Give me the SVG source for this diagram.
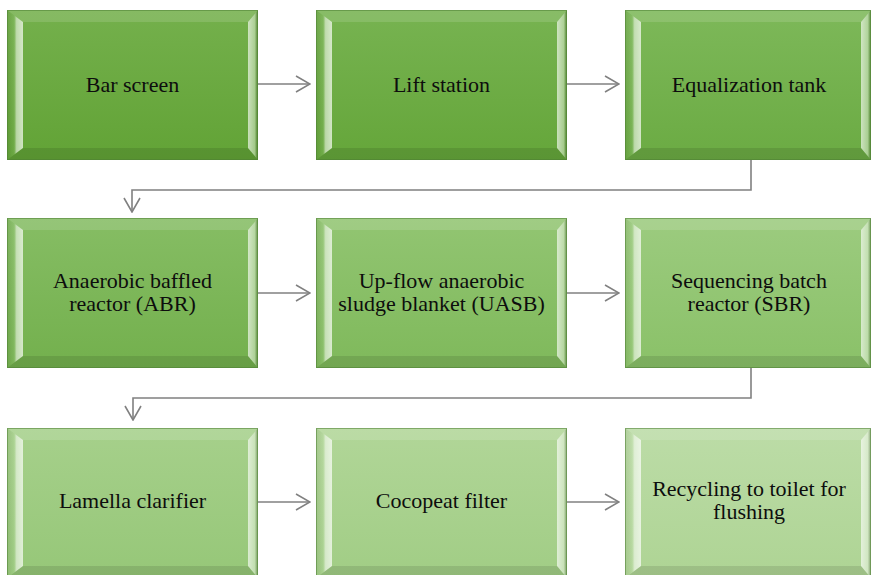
<svg xmlns="http://www.w3.org/2000/svg" xmlns:xlink="http://www.w3.org/1999/xlink" width="871" height="575" viewBox="0 0 871 575">
  <style>
    .lbl { font-family: "Liberation Serif", "Times New Roman", serif; font-size: 22px; fill: #0d0d0d; text-anchor: middle; }
    .edge { fill: none; stroke: #808080; stroke-width: 1.6; }
    .rim { fill: none; stroke: #4f7f34; stroke-opacity: 0.55; stroke-width: 1; }
  </style>
  <defs>
    <!-- face fills, darkest first, lightening along the process -->
    <linearGradient id="f1" x1="0" y1="0" x2="0" y2="1"><stop offset="0" stop-color="#74b04c"/><stop offset="1" stop-color="#62a336"/></linearGradient>
    <linearGradient id="f2" x1="0" y1="0" x2="0" y2="1"><stop offset="0" stop-color="#77b351"/><stop offset="1" stop-color="#65a63a"/></linearGradient>
    <linearGradient id="f3" x1="0" y1="0" x2="0" y2="1"><stop offset="0" stop-color="#7db859"/><stop offset="1" stop-color="#6bab43"/></linearGradient>
    <linearGradient id="f4" x1="0" y1="0" x2="0" y2="1"><stop offset="0" stop-color="#86bd64"/><stop offset="1" stop-color="#73b04d"/></linearGradient>
    <linearGradient id="f5" x1="0" y1="0" x2="0" y2="1"><stop offset="0" stop-color="#92c572"/><stop offset="1" stop-color="#7fb95b"/></linearGradient>
    <linearGradient id="f6" x1="0" y1="0" x2="0" y2="1"><stop offset="0" stop-color="#9ccb7f"/><stop offset="1" stop-color="#8ac168"/></linearGradient>
    <linearGradient id="f7" x1="0" y1="0" x2="0" y2="1"><stop offset="0" stop-color="#a6d08b"/><stop offset="1" stop-color="#96c778"/></linearGradient>
    <linearGradient id="f8" x1="0" y1="0" x2="0" y2="1"><stop offset="0" stop-color="#b1d698"/><stop offset="1" stop-color="#a1cd85"/></linearGradient>
    <linearGradient id="f9" x1="0" y1="0" x2="0" y2="1"><stop offset="0" stop-color="#bcdca7"/><stop offset="1" stop-color="#aed494"/></linearGradient>

    <!-- bevel shading -->
    <linearGradient id="bl" x1="0" y1="0" x2="1" y2="0">
      <stop offset="0" stop-color="#000" stop-opacity="0.06"/>
      <stop offset="0.45" stop-color="#fff" stop-opacity="0.08"/>
      <stop offset="0.6" stop-color="#fff" stop-opacity="0.55"/>
      <stop offset="1" stop-color="#fff" stop-opacity="0.7"/>
    </linearGradient>
    <linearGradient id="br" x1="0" y1="0" x2="1" y2="0">
      <stop offset="0" stop-color="#fff" stop-opacity="0.65"/>
      <stop offset="0.7" stop-color="#fff" stop-opacity="0.4"/>
      <stop offset="1" stop-color="#000" stop-opacity="0.12"/>
    </linearGradient>

    <g id="bevelA">
      <polygon points="0,0 251,0 241,12 16,12" fill="#fff" fill-opacity="0.13"/>
      <polygon points="0,0 16,12 16,138 0,150" fill="url(#bl)"/>
      <polygon points="251,0 251,150 241,138 241,12" fill="url(#br)"/>
      <polygon points="0,150 16,138 241,138 251,150" fill="#000" fill-opacity="0.1"/>
      <rect class="rim" x="0.5" y="0.5" width="250" height="149"/>
    </g>
    <g id="bevelB">
      <polygon points="0,0 246,0 236,12 16,12" fill="#fff" fill-opacity="0.13"/>
      <polygon points="0,0 16,12 16,138 0,150" fill="url(#bl)"/>
      <polygon points="246,0 246,150 236,138 236,12" fill="url(#br)"/>
      <polygon points="0,150 16,138 236,138 246,150" fill="#000" fill-opacity="0.1"/>
      <rect class="rim" x="0.5" y="0.5" width="245" height="149"/>
    </g>

    <marker id="open" viewBox="0 0 16 18" refX="15" refY="9" markerWidth="16" markerHeight="18" markerUnits="userSpaceOnUse" orient="auto">
      <polyline points="1,1 15,9 1,17" fill="none" stroke="#808080" stroke-width="1.6"/>
    </marker>
  </defs>

  <rect width="871" height="575" fill="#fff"/>

  <!-- row 1 -->
  <g id="bar-screen" transform="translate(7,10)">
    <rect width="251" height="150" fill="url(#f1)"/>
    <use xlink:href="#bevelA"/>
    <text class="lbl" x="125.5" y="82">Bar screen</text>
  </g>
  <g id="lift-station" transform="translate(316,10)">
    <rect width="251" height="150" fill="url(#f2)"/>
    <use xlink:href="#bevelA"/>
    <text class="lbl" x="125.5" y="82">Lift station</text>
  </g>
  <g id="equalization-tank" transform="translate(625,10)">
    <rect width="246" height="150" fill="url(#f3)"/>
    <use xlink:href="#bevelB"/>
    <text class="lbl" x="124" y="82">Equalization tank</text>
  </g>

  <!-- row 2 -->
  <g id="abr" transform="translate(7,218)">
    <rect width="251" height="150" fill="url(#f4)"/>
    <use xlink:href="#bevelA"/>
    <text class="lbl" x="125.5" y="70">Anaerobic baffled</text>
    <text class="lbl" x="125.5" y="93">reactor (ABR)</text>
  </g>
  <g id="uasb" transform="translate(316,218)">
    <rect width="251" height="150" fill="url(#f5)"/>
    <use xlink:href="#bevelA"/>
    <text class="lbl" x="125.5" y="70">Up-flow anaerobic</text>
    <text class="lbl" x="125.5" y="93">sludge blanket (UASB)</text>
  </g>
  <g id="sbr" transform="translate(625,218)">
    <rect width="246" height="150" fill="url(#f6)"/>
    <use xlink:href="#bevelB"/>
    <text class="lbl" x="124" y="70">Sequencing batch</text>
    <text class="lbl" x="124" y="93">reactor (SBR)</text>
  </g>

  <!-- row 3 -->
  <g id="lamella-clarifier" transform="translate(7,428)">
    <rect width="251" height="150" fill="url(#f7)"/>
    <use xlink:href="#bevelA"/>
    <text class="lbl" x="125.5" y="80">Lamella clarifier</text>
  </g>
  <g id="cocopeat-filter" transform="translate(316,428)">
    <rect width="251" height="150" fill="url(#f8)"/>
    <use xlink:href="#bevelA"/>
    <text class="lbl" x="125.5" y="80">Cocopeat filter</text>
  </g>
  <g id="recycling" transform="translate(625,428)">
    <rect width="246" height="150" fill="url(#f9)"/>
    <use xlink:href="#bevelB"/>
    <text class="lbl" x="124" y="68">Recycling to toilet for</text>
    <text class="lbl" x="124" y="91">flushing</text>
  </g>

  <!-- connectors -->
  <g id="connectors">
    <path class="edge" d="M258,84 H310" marker-end="url(#open)"/>
    <path class="edge" d="M567,84 H619" marker-end="url(#open)"/>
    <path class="edge" d="M751,160 V190 H132 V212" marker-end="url(#open)"/>
    <path class="edge" d="M258,293 H310" marker-end="url(#open)"/>
    <path class="edge" d="M567,293 H619" marker-end="url(#open)"/>
    <path class="edge" d="M751,368 V398 H133 V420" marker-end="url(#open)"/>
    <path class="edge" d="M258,502 H310" marker-end="url(#open)"/>
    <path class="edge" d="M567,502 H619" marker-end="url(#open)"/>
  </g>
</svg>
